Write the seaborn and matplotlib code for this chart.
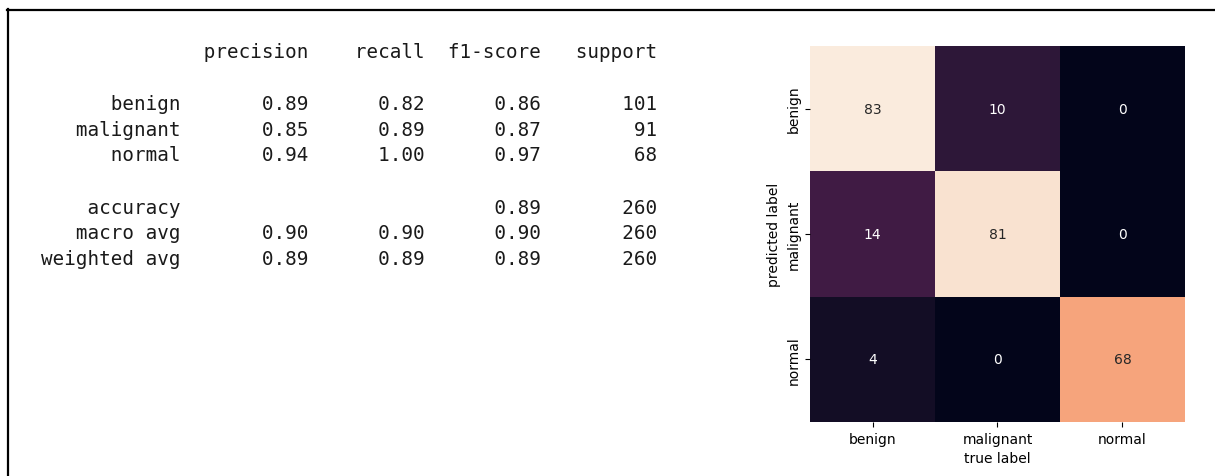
import numpy as np
import pandas as pd
import matplotlib
matplotlib.use("Agg")
import matplotlib.pyplot as plt
from matplotlib.lines import Line2D
import seaborn as sns

# classification report values
classes = ["benign", "malignant", "normal"]
precision = [0.89, 0.85, 0.94]
recall = [0.82, 0.89, 1.00]
f1_score = [0.86, 0.87, 0.97]
support = [101, 91, 68]
accuracy = 0.89
total = 260
macro_avg = [0.90, 0.90, 0.90]
weighted_avg = [0.89, 0.89, 0.89]

# confusion matrix (rows = predicted, cols = true)
conf = [[83, 10, 0],
        [14, 81, 0],
        [4, 0, 68]]

W, H = 1215, 477
fig = plt.figure(figsize=(W / 100, H / 100), dpi=100)

# screenshot frame (top and left edges)
fig.add_artist(Line2D([7 / W, 1], [1 - 10.5 / H] * 2, transform=fig.transFigure,
                      color="black", lw=1.6))
fig.add_artist(Line2D([7.5 / W] * 2, [0, 1 - 10 / H], transform=fig.transFigure,
                      color="black", lw=1.6))

# text report in sklearn layout
width = max(len(c) for c in classes + ["weighted avg"])
head = " " * width + " " + "".join(f" {h:>9}" for h in ["precision", "recall", "f1-score", "support"])
lines = [head, ""]
for c, p, r, f, s in zip(classes, precision, recall, f1_score, support):
    lines.append(f"{c:>{width}} " + f" {p:>9.2f} {r:>9.2f} {f:>9.2f} {s:>9}")
lines.append("")
lines.append(f"{'accuracy':>{width}} " + f" {'':>9} {'':>9} {accuracy:>9.2f} {total:>9}")
lines.append(f"{'macro avg':>{width}} " + "".join(f" {v:>9.2f}" for v in macro_avg) + f" {total:>9}")
lines.append(f"{'weighted avg':>{width}} " + "".join(f" {v:>9.2f}" for v in weighted_avg) + f" {total:>9}")

for i, line in enumerate(lines):
    fig.text(41 / W, 1 - (52 + 26 * i) / H, line, family="DejaVu Sans Mono",
             fontsize=13.9, color="#1a1a1a", ha="left", va="center")

# confusion matrix heatmap
cm = pd.DataFrame(conf, index=classes, columns=classes)
ax = fig.add_axes([810 / W, 1 - 423 / H, 375 / W, 376 / H])
sns.heatmap(cm, annot=True, fmt="d", cbar=False, square=False, ax=ax,
            annot_kws={"fontsize": 10})
ax.set_xlabel("true label", fontsize=10)
ax.set_ylabel("predicted label", fontsize=10)
ax.tick_params(labelsize=10)
plt.setp(ax.get_yticklabels(), rotation=90, va="center")

fig.savefig("out.png", dpi=100)
